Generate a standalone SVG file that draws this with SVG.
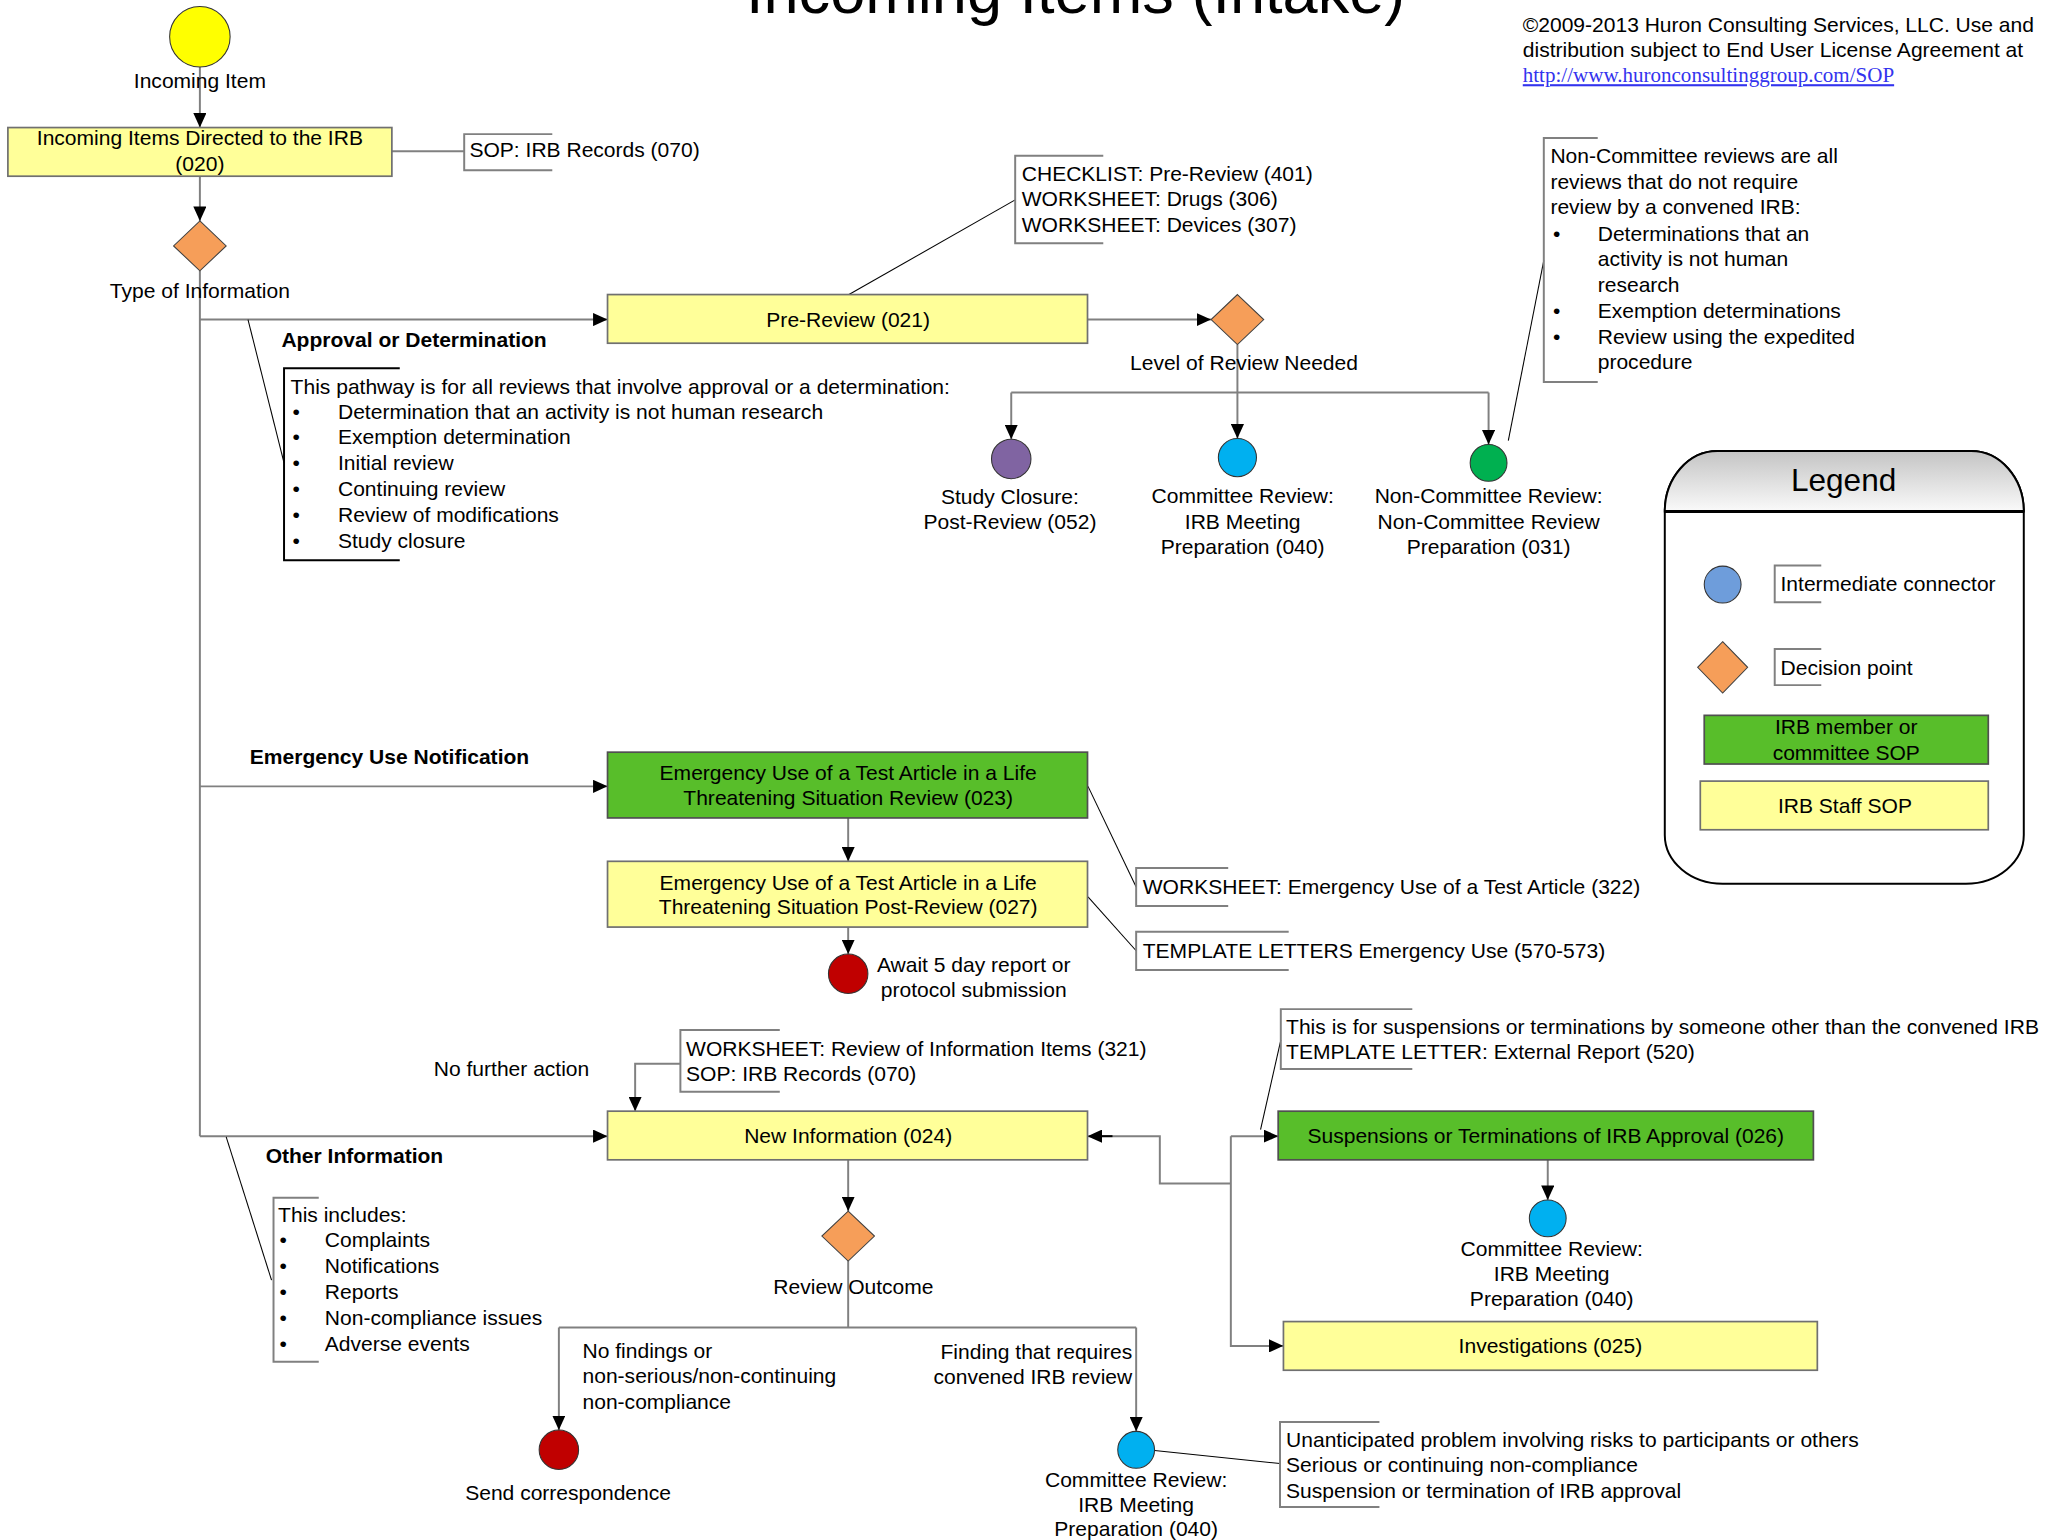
<svg xmlns="http://www.w3.org/2000/svg" width="2062" height="1540" viewBox="0 0 2062 1540">
<defs>
<style>
.t{font-family:"Liberation Sans",Arial,sans-serif;font-size:16px;fill:#000}
.c{text-anchor:middle}
.e{text-anchor:end}
.b{font-weight:bold}
.ln{stroke:#808080;stroke-width:1.5;fill:none}
.ar{marker-end:url(#ah)}
.an{stroke:#000;stroke-width:0.8;fill:none}
.br{stroke:#808080;stroke-width:1.5;fill:none}
.yb{fill:#FFFF99;stroke:#707070;stroke-width:1.3}
.gb{fill:#58BE2A;stroke:#505050;stroke-width:1.3}
.dm{fill:#F69E59;stroke:#404040;stroke-width:0.8}
.cr{stroke:#333;stroke-width:0.8}
</style>
<marker id="ah" markerUnits="userSpaceOnUse" markerWidth="11" markerHeight="10" viewBox="0 0 11 10" refX="11" refY="5" orient="auto"><path d="M0,0 L11,5 L0,10 z" fill="#000"/></marker>
<linearGradient id="hg" x1="0" y1="0" x2="0" y2="1"><stop offset="0" stop-color="#c4c4c4"/><stop offset="1" stop-color="#fafafa"/></linearGradient>
</defs>
<rect width="2062" height="1540" fill="#fff"/>
<g transform="scale(1.315)">
<g id="title"><text class="t c" x="818" y="10" style="font-size:48px">Incoming Items (Intake)</text></g>
<g id="copyright">
<text class="t" x="1158" y="24.5">©2009-2013 Huron Consulting Services, LLC. Use and</text>
<text class="t" x="1158" y="43">distribution subject to End User License Agreement at</text>
<text x="1158" y="62.5" style="font-family:'Liberation Serif','Times New Roman',serif;font-size:16px;fill:#3333ee;text-decoration:underline">http://www.huronconsultinggroup.com/SOP</text>
</g>
<g id="connectors">
<path class="ln ar" d="M152,51 V97"/>
<path class="ln ar" d="M152,134 V168"/>
<path class="ln" d="M298,115 H353"/>
<path class="ln" d="M152,206 V864"/>
<path class="ln ar" d="M152,243 H462"/>
<path class="ln ar" d="M152,598 H462"/>
<path class="ln ar" d="M152,864 H462"/>
<path class="ln ar" d="M827,243 H921"/>
<path class="ln ar" d="M941,262 V333.5"/>
<path class="ln" d="M769,298.5 H1132"/>
<path class="ln ar" d="M769,298.5 V334"/>
<path class="ln ar" d="M1132,298.5 V338"/>
<path class="ln ar" d="M645,622 V655"/>
<path class="ln ar" d="M645,705 V725.5"/>
<path class="ln ar" d="M517.4,809 H483 V845"/>
<path class="ln ar" d="M936,864 H972"/>
<path class="ln ar" d="M936,864 V1023.5 H976"/>
<path class="ln ar" d="M936,900 H882 V864 H827"/>
<path d="M837,864 H846" stroke="#000" stroke-width="1.5"/>
<path class="ln ar" d="M1177,882 V912.5"/>
<path class="ln ar" d="M645,882 V921"/>
<path class="ln" d="M645,959 V1009.5"/>
<path class="ln" d="M425,1009.5 H864"/>
<path class="ln ar" d="M425,1009.5 V1087.5"/>
<path class="ln ar" d="M864,1009.5 V1088.5"/>
<path class="an" d="M188.6,243 L216,352"/>
<path class="an" d="M645.6,224 L772,152"/>
<path class="an" d="M1147,335 L1174,198"/>
<path class="an" d="M827.4,598 L864,674.5"/>
<path class="an" d="M827.4,682 L864,723"/>
<path class="an" d="M172,864.5 L206.5,973.5"/>
<path class="an" d="M958.6,859 L974,791"/>
<path class="an" d="M878,1103 L973.4,1113"/>
</g>
<g id="incoming-item">
<circle cx="152" cy="28" r="23" fill="#FFFF00" class="cr"/>
<text class="t c" x="152" y="67">Incoming Item</text>
</g>
<g id="box-020">
<rect class="yb" x="6" y="97" width="292" height="37"/>
<text class="t c" x="152" y="110.5">Incoming Items Directed to the IRB</text>
<text class="t c" x="152" y="130">(020)</text>
</g>
<g id="note-sop-070">
<path class="br" d="M420,102 H353 V129.5 H420"/>
<text class="t" x="357" y="119.5">SOP: IRB Records (070)</text>
</g>
<g id="decision-type">
<path class="dm" d="M152,168 L172,187 L152,206 L132,187 Z"/>
<text class="t c" x="152" y="226.5">Type of Information</text>
</g>
<g id="label-approval"><text class="t b" x="214" y="263.5">Approval or Determination</text></g>
<g id="note-pathway">
<path d="M304,280 H216 V426 H304" fill="none" stroke="#000" stroke-width="1.5"/>
<text class="t" x="221" y="299.5">This pathway is for all reviews that involve approval or a determination:</text>
<text class="t" x="222.5" y="318.5">•</text><text class="t" x="257" y="318.5">Determination that an activity is not human research</text>
<text class="t" x="222.5" y="338">•</text><text class="t" x="257" y="338">Exemption determination</text>
<text class="t" x="222.5" y="357.5">•</text><text class="t" x="257" y="357.5">Initial review</text>
<text class="t" x="222.5" y="377.5">•</text><text class="t" x="257" y="377.5">Continuing review</text>
<text class="t" x="222.5" y="397">•</text><text class="t" x="257" y="397">Review of modifications</text>
<text class="t" x="222.5" y="416.5">•</text><text class="t" x="257" y="416.5">Study closure</text>
</g>
<g id="box-021">
<rect class="yb" x="462" y="224" width="365" height="37"/>
<text class="t c" x="645" y="248.5">Pre-Review (021)</text>
</g>
<g id="note-checklist">
<path class="br" d="M839,118.4 H772 V185 H839"/>
<text class="t" x="777" y="137.8">CHECKLIST: Pre-Review (401)</text>
<text class="t" x="777" y="157">WORKSHEET: Drugs (306)</text>
<text class="t" x="777" y="176.5">WORKSHEET: Devices (307)</text>
</g>
<g id="decision-level">
<path class="dm" d="M941,224 L961,243 L941,262 L921,243 Z"/>
<text class="t c" x="946" y="281.5">Level of Review Needed</text>
</g>
<g id="study-closure">
<circle cx="769" cy="349" r="15" fill="#8064A2" class="cr"/>
<text class="t c" x="768" y="383.5">Study Closure:</text>
<text class="t c" x="768" y="402.5">Post-Review (052)</text>
</g>
<g id="committee-review-1">
<circle cx="941" cy="348" r="14.5" fill="#00B0F0" class="cr"/>
<text class="t c" x="945" y="382.5">Committee Review:</text>
<text class="t c" x="945" y="402.5">IRB Meeting</text>
<text class="t c" x="945" y="421.5">Preparation (040)</text>
</g>
<g id="non-committee-review">
<circle cx="1132" cy="352" r="14" fill="#00B050" class="cr"/>
<text class="t c" x="1132" y="382.5">Non-Committee Review:</text>
<text class="t c" x="1132" y="402.5">Non-Committee Review</text>
<text class="t c" x="1132" y="421.5">Preparation (031)</text>
</g>
<g id="note-non-committee">
<path class="br" d="M1215,105 H1174 V290.5 H1215"/>
<text class="t" x="1179" y="124">Non-Committee reviews are all</text>
<text class="t" x="1179" y="144">reviews that do not require</text>
<text class="t" x="1179" y="163">review by a convened IRB:</text>
<text class="t" x="1181" y="183">•</text><text class="t" x="1215" y="183">Determinations that an</text>
<text class="t" x="1215" y="202.5">activity is not human</text>
<text class="t" x="1215" y="222">research</text>
<text class="t" x="1181" y="242">•</text><text class="t" x="1215" y="242">Exemption determinations</text>
<text class="t" x="1181" y="261.5">•</text><text class="t" x="1215" y="261.5">Review using the expedited</text>
<text class="t" x="1215" y="280.5">procedure</text>
</g>
<g id="legend">
<path d="M1266,389 A40,46 0 0 1 1306,343 H1499 A40,46 0 0 1 1539,389 V635 A44,37 0 0 1 1495,672 H1310 A44,37 0 0 1 1266,635 Z" fill="#fff" stroke="#000" stroke-width="1.5"/>
<path d="M1266,389 A40,46 0 0 1 1306,343 H1499 A40,46 0 0 1 1539,389 Z" fill="url(#hg)" stroke="#000" stroke-width="1.5"/>
<path d="M1266,389 H1539" stroke="#000" stroke-width="2.2"/>
<text class="t c" x="1402" y="373.5" style="font-size:24px">Legend</text>
<circle cx="1310" cy="444.5" r="14" fill="#6E9DDB" class="cr"/>
<path class="br" d="M1385,430 H1349.6 V458 H1385"/>
<text class="t" x="1354" y="449.5">Intermediate connector</text>
<path class="dm" d="M1310,488 L1329,507.5 L1310,527 L1291,507.5 Z"/>
<path class="br" d="M1385,493.5 H1349.6 V521 H1385"/>
<text class="t" x="1354" y="513">Decision point</text>
<rect class="gb" x="1296" y="544" width="216" height="37"/>
<text class="t c" x="1404" y="558">IRB member or</text>
<text class="t c" x="1404" y="578">committee SOP</text>
<rect class="yb" x="1293" y="594" width="219" height="37"/>
<text class="t c" x="1403" y="618.5">IRB Staff SOP</text>
</g>
<g id="label-emergency"><text class="t b" x="190" y="581">Emergency Use Notification</text></g>
<g id="box-023">
<rect class="gb" x="462" y="572" width="365" height="50"/>
<text class="t c" x="645" y="593">Emergency Use of a Test Article in a Life</text>
<text class="t c" x="645" y="612">Threatening Situation Review (023)</text>
</g>
<g id="box-027">
<rect class="yb" x="462" y="655" width="365" height="50"/>
<text class="t c" x="645" y="676.5">Emergency Use of a Test Article in a Life</text>
<text class="t c" x="645" y="695">Threatening Situation Post-Review (027)</text>
</g>
<g id="await-report">
<circle cx="645" cy="740.5" r="15" fill="#C00000" class="cr"/>
<text class="t c" x="740.5" y="739.5">Await 5 day report or</text>
<text class="t c" x="740.5" y="758">protocol submission</text>
</g>
<g id="note-ws-322">
<path class="br" d="M934,660 H864 V689 H934"/>
<text class="t" x="869" y="680">WORKSHEET: Emergency Use of a Test Article (322)</text>
</g>
<g id="note-tl-570">
<path class="br" d="M980,708.5 H864 V737.6 H980"/>
<text class="t" x="869" y="728.5">TEMPLATE LETTERS Emergency Use (570-573)</text>
</g>
<g id="label-no-further"><text class="t c" x="389" y="818.5">No further action</text></g>
<g id="note-ws-321">
<path class="br" d="M593,783.3 H517.4 V830.2 H593"/>
<text class="t" x="521.7" y="802.7">WORKSHEET: Review of Information Items (321)</text>
<text class="t" x="521.7" y="821.7">SOP: IRB Records (070)</text>
</g>
<g id="label-other"><text class="t b" x="202" y="884.5">Other Information</text></g>
<g id="note-includes">
<path class="br" d="M242.4,910.8 H208 V1035.5 H242.4"/>
<text class="t" x="211.5" y="929.5">This includes:</text>
<text class="t" x="212.5" y="948.5">•</text><text class="t" x="247" y="948.5">Complaints</text>
<text class="t" x="212.5" y="968">•</text><text class="t" x="247" y="968">Notifications</text>
<text class="t" x="212.5" y="988">•</text><text class="t" x="247" y="988">Reports</text>
<text class="t" x="212.5" y="1007.5">•</text><text class="t" x="247" y="1007.5">Non-compliance issues</text>
<text class="t" x="212.5" y="1027.5">•</text><text class="t" x="247" y="1027.5">Adverse events</text>
</g>
<g id="box-024">
<rect class="yb" x="462" y="845" width="365" height="37"/>
<text class="t c" x="645" y="869.5">New Information (024)</text>
</g>
<g id="note-suspensions">
<path class="br" d="M1074,767.4 H974 V813 H1074"/>
<text class="t" x="978" y="786.3">This is for suspensions or terminations by someone other than the convened IRB</text>
<text class="t" x="978" y="805.3">TEMPLATE LETTER: External Report (520)</text>
</g>
<g id="box-026">
<rect class="gb" x="972" y="845" width="407" height="37"/>
<text class="t c" x="1175.5" y="869.5">Suspensions or Terminations of IRB Approval (026)</text>
</g>
<g id="committee-review-2">
<circle cx="1177" cy="926.5" r="14" fill="#00B0F0" class="cr"/>
<text class="t c" x="1180" y="955">Committee Review:</text>
<text class="t c" x="1180" y="974.5">IRB Meeting</text>
<text class="t c" x="1180" y="993.5">Preparation (040)</text>
</g>
<g id="box-025">
<rect class="yb" x="976" y="1005" width="406" height="37"/>
<text class="t c" x="1179" y="1029">Investigations (025)</text>
</g>
<g id="decision-outcome">
<path class="dm" d="M645,921 L665,940 L645,959 L625,940 Z"/>
<text class="t c" x="649" y="984">Review Outcome</text>
</g>
<g id="label-no-findings">
<text class="t" x="443" y="1032.5">No findings or</text>
<text class="t" x="443" y="1052">non-serious/non-continuing</text>
<text class="t" x="443" y="1071.5">non-compliance</text>
</g>
<g id="label-finding">
<text class="t e" x="861" y="1033.5">Finding that requires</text>
<text class="t e" x="861" y="1052.5">convened IRB review</text>
</g>
<g id="send-correspondence">
<circle cx="425" cy="1102.5" r="15" fill="#C00000" class="cr"/>
<text class="t c" x="432" y="1140.5">Send correspondence</text>
</g>
<g id="committee-review-3">
<circle cx="864" cy="1102.5" r="14" fill="#00B0F0" class="cr"/>
<text class="t c" x="864" y="1131">Committee Review:</text>
<text class="t c" x="864" y="1150">IRB Meeting</text>
<text class="t c" x="864" y="1168">Preparation (040)</text>
</g>
<g id="note-unanticipated">
<path class="br" d="M1049,1081.4 H973.4 V1146 H1049"/>
<text class="t" x="978" y="1100">Unanticipated problem involving risks to participants or others</text>
<text class="t" x="978" y="1119.5">Serious or continuing non-compliance</text>
<text class="t" x="978" y="1139">Suspension or termination of IRB approval</text>
</g>
</g>
</svg>
